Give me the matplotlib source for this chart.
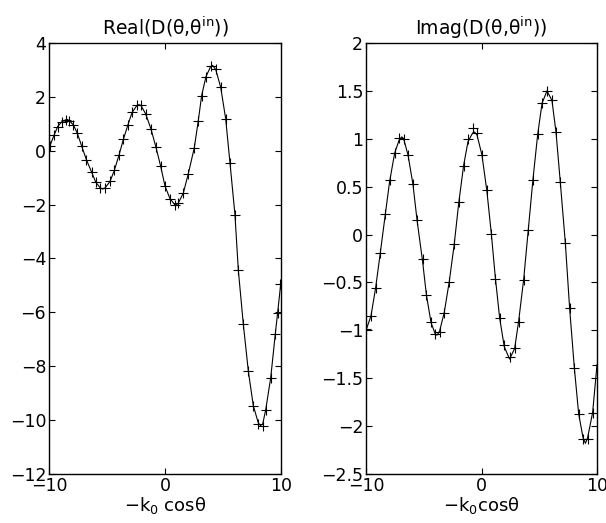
import matplotlib
matplotlib.use("Agg")
import matplotlib.pyplot as plt
from matplotlib.ticker import FuncFormatter

plt.rcParams['font.family'] = ['DejaVu Sans']
plt.rcParams['mathtext.fontset'] = 'dejavusans'

# marcadores (+) - parte real
mk_x_re = [-9.91, -9.57, -9.25, -8.91, -8.56, -8.28, -7.90, -7.56, -7.18, -6.78,
           -6.32, -5.98, -5.58, -5.17, -4.74, -4.37, -3.97, -3.59, -3.19, -2.84,
           -2.44, -2.07, -1.67, -1.21, -0.78, -0.37, 0.00, 0.43, 0.86, 1.15,
           1.58, 2.01, 2.53, 2.87, 3.16, 3.53, 3.94, 4.37, 4.80, 5.23,
           5.60, 6.03, 6.32, 6.75, 7.18, 7.61, 8.04, 8.42, 8.68, 9.11,
           9.51, 9.71, 9.91]
mk_re = [0.17, 0.57, 0.90, 1.07, 1.15, 1.12, 0.96, 0.65, 0.17, -0.33,
         -0.78, -1.16, -1.37, -1.37, -1.14, -0.73, -0.17, 0.42, 0.97, 1.42,
         1.68, 1.68, 1.37, 0.81, 0.13, -0.58, -1.31, -1.78, -2.03, -1.94,
         -1.57, -0.85, 0.12, 1.12, 2.05, 2.75, 3.13, 3.04, 2.36, 1.19,
         -0.44, -2.37, -4.43, -6.43, -8.17, -9.46, -10.15, -10.21, -9.62, -8.44,
         -6.80, -6.01, -4.93]

# curva continua - parte real
ln_x_re = [-10.0, -9.57, -9.25, -8.91, -8.56, -8.42, -8.28, -7.90, -7.56, -7.18,
           -6.78, -6.32, -5.98, -5.58, -5.37, -5.17, -4.74, -4.37, -3.97, -3.59,
           -3.19, -2.84, -2.44, -2.25, -2.07, -1.67, -1.21, -0.78, -0.37, 0.00,
           0.43, 0.86, 0.95, 1.15, 1.58, 2.01, 2.53, 2.87, 3.16, 3.53,
           3.94, 4.10, 4.37, 4.80, 5.23, 5.60, 6.03, 6.32, 6.75, 7.18,
           7.61, 8.04, 8.23, 8.42, 8.68, 9.11, 9.51, 9.71, 10.0]
ln_re = [0.10, 0.57, 0.90, 1.07, 1.15, 1.16, 1.13, 0.96, 0.65, 0.17,
         -0.33, -0.80, -1.16, -1.38, -1.42, -1.38, -1.14, -0.73, -0.17, 0.42,
         0.97, 1.42, 1.67, 1.71, 1.68, 1.37, 0.81, 0.13, -0.58, -1.31,
         -1.78, -2.01, -2.02, -1.94, -1.57, -0.85, 0.12, 1.12, 2.05, 2.75,
         3.13, 3.17, 3.02, 2.36, 1.19, -0.44, -2.37, -4.43, -6.43, -8.17,
         -9.46, -10.10, -10.20, -10.15, -9.62, -8.44, -6.80, -6.01, -4.85]

# marcadores (+) - parte imaginaria
mk_x_im = [-10.0, -9.57, -9.17, -8.76, -8.33, -7.96, -7.52, -7.12, -6.74, -6.36,
           -5.93, -5.58, -5.10, -4.78, -4.37, -4.00, -3.63, -3.22, -2.79, -2.36,
           -1.98, -1.55, -1.17, -0.77, -0.39, 0.04, 0.47, 0.85, 1.19, 1.57,
           1.97, 2.43, 2.87, 3.21, 3.65, 4.05, 4.45, 4.86, 5.24, 5.67,
           6.10, 6.45, 6.82, 7.26, 7.63, 8.03, 8.41, 8.79, 9.19, 9.62,
           10.0]
mk_im = [-0.99, -0.85, -0.56, -0.19, 0.21, 0.57, 0.85, 1.01, 1.00, 0.83,
         0.53, 0.15, -0.25, -0.63, -0.91, -1.04, -1.02, -0.82, -0.50, -0.10,
         0.34, 0.72, 1.00, 1.11, 1.06, 0.83, 0.46, 0.01, -0.46, -0.87,
         -1.15, -1.28, -1.18, -0.91, -0.47, 0.05, 0.57, 1.05, 1.37, 1.50,
         1.40, 1.07, 0.55, -0.09, -0.77, -1.39, -1.87, -2.13, -2.13, -1.86,
         -1.36]

# curva continua - parte imaginaria
ln_x_im = [-10.0, -9.57, -9.17, -8.76, -8.33, -7.96, -7.52, -7.12, -6.90, -6.74,
           -6.36, -5.93, -5.58, -5.10, -4.78, -4.37, -4.00, -3.85, -3.63, -3.22,
           -2.79, -2.36, -1.98, -1.55, -1.17, -0.77, -0.60, -0.39, 0.04, 0.47,
           0.85, 1.19, 1.57, 1.97, 2.43, 2.87, 3.21, 3.65, 4.05, 4.45,
           4.86, 5.24, 5.67, 6.10, 6.45, 6.82, 7.26, 7.63, 8.03, 8.41,
           8.79, 9.00, 9.19, 9.62, 10.0]
ln_im = [-1.00, -0.85, -0.56, -0.19, 0.21, 0.55, 0.85, 0.99, 1.02, 1.00,
         0.83, 0.52, 0.15, -0.28, -0.62, -0.92, -1.04, -1.05, -1.01, -0.81,
         -0.49, -0.10, 0.32, 0.72, 0.97, 1.06, 1.07, 1.04, 0.83, 0.45,
         0.01, -0.44, -0.87, -1.17, -1.30, -1.19, -0.91, -0.47, 0.05, 0.57,
         1.04, 1.37, 1.50, 1.40, 1.07, 0.55, -0.09, -0.77, -1.38, -1.87,
         -2.12, -2.18, -2.12, -1.86, -1.36]

titulos = ["Real(D(θ,θ$^{\\mathrm{in}}$))", "Imag(D(θ,θ$^{\\mathrm{in}}$))"]
rotulos_x = ["\u2212k$_{\\mathrm{0}}$ cosθ", "\u2212k$_{\\mathrm{0}}$cosθ"]
yticks_re = [-12, -10, -8, -6, -4, -2, 0, 2, 4]
yticks_im = [-2.5, -2, -1.5, -1, -0.5, 0, 0.5, 1, 1.5, 2]
xticks = [-10, 0, 10]

fig = plt.figure(figsize=(6.06, 5.23), dpi=100)
ax1 = fig.add_axes([49/606, 49/523, 232/606, 431/523])
ax2 = fig.add_axes([366/606, 49/523, 231/606, 431/523])

dados = [(ax1, ln_x_re, ln_re, mk_x_re, mk_re, yticks_re),
         (ax2, ln_x_im, ln_im, mk_x_im, mk_im, yticks_im)]

fmt = FuncFormatter(lambda v, p: ("%g" % v).replace("-", "\u2212"))

for i, (ax, lx, ly, mx, my, yt) in enumerate(dados):
    ax.plot(lx, ly, color="black", linewidth=0.8)
    ax.plot(mx, my, linestyle="none", marker="+", color="black", markersize=6.5, markeredgewidth=0.8)
    ax.set_xlim(-10, 10)
    ax.set_ylim(yt[0], yt[-1])
    ax.set_xticks(xticks)
    ax.set_yticks(yt)
    ax.xaxis.set_major_formatter(fmt)
    ax.yaxis.set_major_formatter(fmt)
    ax.tick_params(direction="in", top=True, right=True, length=4, width=0.8, labelsize=12.5, pad=2)
    for s in ax.spines.values():
        s.set_linewidth(1.0)
    ax.set_title(titulos[i], fontsize=13.5, pad=6)
    ax.set_xlabel(rotulos_x[i], fontsize=13, labelpad=0)

fig.savefig("out.png", dpi=100)
